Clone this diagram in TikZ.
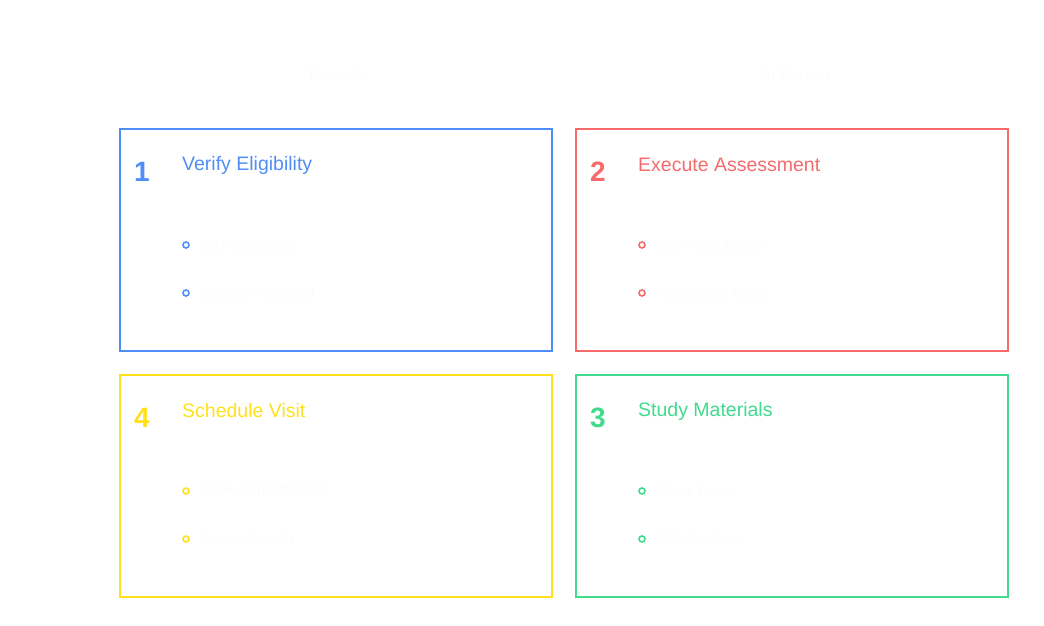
\documentclass[tikz,border=0pt]{standalone}
\usepackage{fontspec}
\setmainfont{Liberation Sans}
\definecolor{cblue}{HTML}{4F8EF7}
\definecolor{cred}{HTML}{F56B6B}
\definecolor{cyellow}{HTML}{FFE01A}
\definecolor{cgreen}{HTML}{40DB8C}
\definecolor{faint}{HTML}{FCFCFC}
\begin{document}
\begin{tikzpicture}[x=1pt,y=-1pt,
  card/.style={draw=#1, line width=1.5pt, minimum width=432pt, minimum height=222pt, inner sep=0pt},
  num/.style={text=#1, font=\fontsize{28}{30}\selectfont\bfseries, anchor=center},
  ttl/.style={text=#1, font=\fontsize{19.5}{22}\selectfont, anchor=west, inner sep=0pt},
  dot/.style={draw=#1, line width=1.6pt, circle, minimum size=6pt, inner sep=0pt},
  itm/.style={text=faint, font=\fontsize{15}{17}\selectfont, anchor=west, inner sep=0pt},
  hdr/.style={text=faint, font=\fontsize{16}{18}\selectfont, anchor=center}]
\useasboundingbox (0,0) rectangle (1044,626);
\node[hdr] (hl) at (337,75) {Remote};
\node[hdr] (hr) at (796,75) {In Person};
% card 1
\node[card=cblue] (c1) at (336,240) {};
\node[num=cblue] (n1) at (142,172) {1};
\node[ttl=cblue] (t1) at (182,165) {Verify Eligibility};
\node[dot=cblue] (d11) at (186,245) {};
\node[itm] (i11) at (200,245) {CIR Validation};
\node[dot=cblue] (d12) at (186,293) {};
\node[itm] (i12) at (200,293) {License Renewal};
% card 2
\node[card=cred] (c2) at (792,240) {};
\node[num=cred] (n2) at (598,172) {2};
\node[ttl=cred] (t2) at (638,165) {Execute Assessment};
\node[dot=cred] (d21) at (642,245) {};
\node[itm] (i21) at (656,245) {Non Final Exam};
\node[dot=cred] (d22) at (642,293) {};
\node[itm] (i22) at (656,293) {Automated Kiosk};
% card 4
\node[card=cyellow] (c4) at (336,486) {};
\node[num=cyellow] (n4) at (142,418) {4};
\node[ttl=cyellow] (t4) at (182,411) {Schedule Visit};
\node[dot=cyellow] (d41) at (186,491) {};
\node[itm] (i41) at (200,491) {Book Appointment};
\node[dot=cyellow] (d42) at (186,539) {};
\node[itm] (i42) at (200,539) {Select Branch};
% card 3
\node[card=cgreen] (c3) at (792,486) {};
\node[num=cgreen] (n3) at (598,418) {3};
\node[ttl=cgreen] (t3) at (638,411) {Study Materials};
\node[dot=cgreen] (d31) at (642,491) {};
\node[itm] (i31) at (656,491) {Mock Tests};
\node[dot=cgreen] (d32) at (642,539) {};
\node[itm] (i32) at (656,539) {IDC Modules};
\end{tikzpicture}
\end{document}
